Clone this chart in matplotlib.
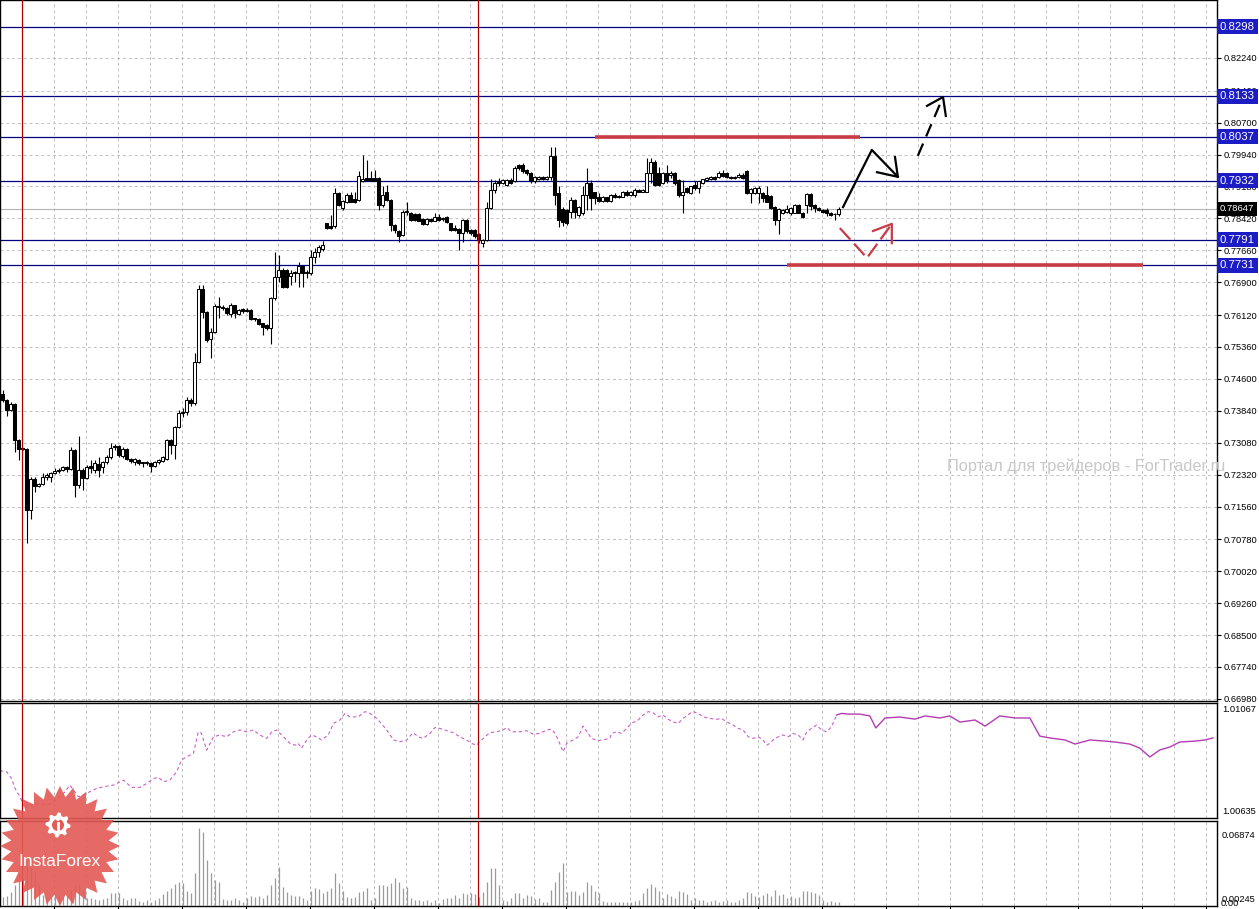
import matplotlib
matplotlib.use('Agg')
import matplotlib.pyplot as plt
import numpy as np
from matplotlib.patches import Polygon, Circle

plt.rcParams['font.family'] = ['Liberation Sans', 'DejaVu Sans']

# ---- candles (bar index 0..209), prices ----
opens = [0.7425, 0.7409, 0.7387, 0.7400, 0.7314, 0.7294, 0.7294, 0.7147, 0.7221, 0.7205,
         0.7209, 0.7227, 0.7227, 0.7236, 0.7241, 0.7242, 0.7250, 0.7245, 0.7290, 0.7207,
         0.7243, 0.7225, 0.7252, 0.7244, 0.7258, 0.7249, 0.7262, 0.7273, 0.7301, 0.7300,
         0.7276, 0.7294, 0.7270, 0.7262, 0.7266, 0.7261, 0.7259, 0.7260, 0.7252, 0.7262,
         0.7264, 0.7269, 0.7314, 0.7302, 0.7346, 0.7378, 0.7382, 0.7409, 0.7402, 0.7501,
         0.7673, 0.7620, 0.7556, 0.7572, 0.7633, 0.7630, 0.7628, 0.7614, 0.7635, 0.7614,
         0.7626, 0.7625, 0.7624, 0.7604, 0.7602, 0.7592, 0.7588, 0.7580, 0.7652, 0.7702,
         0.7720, 0.7718, 0.7705, 0.7715, 0.7711, 0.7729, 0.7711, 0.7711, 0.7751, 0.7763,
         0.7768, 0.7830, 0.7824, 0.7823, 0.7902, 0.7866, 0.7882, 0.7898, 0.7888, 0.7886,
         0.7930, 0.7938, 0.7938, 0.7938, 0.7938, 0.7874, 0.7904, 0.7886, 0.7827, 0.7813,
         0.7803, 0.7858, 0.7856, 0.7853, 0.7853, 0.7841, 0.7829, 0.7840, 0.7837, 0.7846,
         0.7840, 0.7845, 0.7830, 0.7819, 0.7816, 0.7808, 0.7838, 0.7815, 0.7815, 0.7805,
         0.7784, 0.7791, 0.7866, 0.7910, 0.7932, 0.7927, 0.7922, 0.7934, 0.7930, 0.7969,
         0.7969, 0.7958, 0.7951, 0.7930, 0.7936, 0.7940, 0.7936, 0.7940, 0.7991, 0.7902,
         0.7864, 0.7862, 0.7858, 0.7886, 0.7850, 0.7854, 0.7898, 0.7927, 0.7904, 0.7892,
         0.7884, 0.7892, 0.7884, 0.7898, 0.7894, 0.7894, 0.7906, 0.7898, 0.7898, 0.7910,
         0.7906, 0.7906, 0.7950, 0.7977, 0.7951, 0.7926, 0.7951, 0.7946, 0.7950, 0.7934,
         0.7898, 0.7914, 0.7902, 0.7922, 0.7914, 0.7927, 0.7934, 0.7935, 0.7940, 0.7940,
         0.7951, 0.7950, 0.7941, 0.7938, 0.7940, 0.7946, 0.7954, 0.7902, 0.7902, 0.7902,
         0.7902, 0.7898, 0.7896, 0.7870, 0.7839, 0.7854, 0.7858, 0.7856, 0.7856, 0.7874,
         0.7856, 0.7874, 0.7900, 0.7874, 0.7866, 0.7862, 0.7862, 0.7856, 0.7852, 0.7853]
highs = [0.7433, 0.7413, 0.7405, 0.7402, 0.7316, 0.7296, 0.7296, 0.7227, 0.7227, 0.7212,
         0.7235, 0.7235, 0.7239, 0.7247, 0.7247, 0.7253, 0.7252, 0.7298, 0.7292, 0.7324,
         0.7247, 0.7256, 0.7266, 0.7266, 0.7273, 0.7265, 0.7278, 0.7308, 0.7306, 0.7303,
         0.7297, 0.7296, 0.7272, 0.7272, 0.7269, 0.7263, 0.7264, 0.7262, 0.7265, 0.7270,
         0.7276, 0.7316, 0.7316, 0.7348, 0.7385, 0.7390, 0.7417, 0.7415, 0.7521, 0.7683,
         0.7683, 0.7622, 0.7580, 0.7638, 0.7656, 0.7635, 0.7630, 0.7640, 0.7637, 0.7627,
         0.7628, 0.7628, 0.7627, 0.7606, 0.7605, 0.7594, 0.7590, 0.7655, 0.7763, 0.7755,
         0.7725, 0.7722, 0.7718, 0.7717, 0.7739, 0.7732, 0.7718, 0.7767, 0.7771, 0.7779,
         0.7789, 0.7832, 0.7850, 0.7914, 0.7904, 0.7886, 0.7902, 0.7906, 0.7906, 0.7954,
         0.7993, 0.7980, 0.7954, 0.7958, 0.7940, 0.7918, 0.7922, 0.7888, 0.7829, 0.7815,
         0.7862, 0.7882, 0.7858, 0.7855, 0.7855, 0.7843, 0.7843, 0.7842, 0.7854, 0.7853,
         0.7845, 0.7848, 0.7832, 0.7827, 0.7818, 0.7841, 0.7840, 0.7817, 0.7817, 0.7807,
         0.7793, 0.7882, 0.7935, 0.7934, 0.7938, 0.7936, 0.7936, 0.7938, 0.7966, 0.7972,
         0.7973, 0.7960, 0.7953, 0.7942, 0.7942, 0.7942, 0.7943, 0.8013, 0.8013, 0.7918,
         0.7870, 0.7865, 0.7894, 0.7888, 0.7872, 0.7918, 0.7962, 0.7934, 0.7906, 0.7902,
         0.7895, 0.7894, 0.7900, 0.7902, 0.7898, 0.7908, 0.7910, 0.7908, 0.7914, 0.7912,
         0.7912, 0.7985, 0.7985, 0.7980, 0.7965, 0.7953, 0.7969, 0.7954, 0.7952, 0.7936,
         0.7934, 0.7916, 0.7920, 0.7930, 0.7932, 0.7937, 0.7940, 0.7943, 0.7942, 0.7954,
         0.7958, 0.7952, 0.7943, 0.7943, 0.7950, 0.7950, 0.7958, 0.7914, 0.7916, 0.7918,
         0.7904, 0.7918, 0.7898, 0.7872, 0.7866, 0.7864, 0.7874, 0.7868, 0.7876, 0.7876,
         0.7858, 0.7902, 0.7902, 0.7876, 0.7868, 0.7864, 0.7866, 0.7858, 0.7856, 0.7869]
lows = [0.7405, 0.7371, 0.7383, 0.7286, 0.7266, 0.7290, 0.7068, 0.7127, 0.7191, 0.7203,
        0.7207, 0.7219, 0.7215, 0.7234, 0.7237, 0.7240, 0.7239, 0.7243, 0.7179, 0.7199,
        0.7195, 0.7222, 0.7235, 0.7235, 0.7227, 0.7235, 0.7258, 0.7270, 0.7290, 0.7274,
        0.7272, 0.7266, 0.7260, 0.7256, 0.7256, 0.7249, 0.7254, 0.7239, 0.7249, 0.7258,
        0.7262, 0.7266, 0.7282, 0.7270, 0.7342, 0.7370, 0.7375, 0.7395, 0.7398, 0.7498,
        0.7604, 0.7548, 0.7509, 0.7568, 0.7604, 0.7624, 0.7613, 0.7608, 0.7604, 0.7612,
        0.7616, 0.7618, 0.7600, 0.7598, 0.7588, 0.7564, 0.7576, 0.7544, 0.7648, 0.7691,
        0.7676, 0.7676, 0.7683, 0.7691, 0.7679, 0.7679, 0.7699, 0.7708, 0.7735, 0.7751,
        0.7765, 0.7816, 0.7816, 0.7820, 0.7872, 0.7862, 0.7879, 0.7880, 0.7879, 0.7884,
        0.7928, 0.7930, 0.7930, 0.7930, 0.7862, 0.7870, 0.7884, 0.7811, 0.7807, 0.7787,
        0.7800, 0.7850, 0.7836, 0.7836, 0.7835, 0.7827, 0.7827, 0.7834, 0.7835, 0.7836,
        0.7836, 0.7830, 0.7811, 0.7811, 0.7767, 0.7787, 0.7807, 0.7803, 0.7795, 0.7783,
        0.7775, 0.7789, 0.7864, 0.7902, 0.7918, 0.7924, 0.7920, 0.7924, 0.7928, 0.7958,
        0.7951, 0.7946, 0.7926, 0.7927, 0.7934, 0.7934, 0.7934, 0.7934, 0.7874, 0.7821,
        0.7823, 0.7827, 0.7842, 0.7842, 0.7846, 0.7850, 0.7862, 0.7862, 0.7877, 0.7882,
        0.7882, 0.7882, 0.7882, 0.7890, 0.7891, 0.7892, 0.7896, 0.7896, 0.7894, 0.7904,
        0.7904, 0.7904, 0.7926, 0.7920, 0.7920, 0.7924, 0.7926, 0.7938, 0.7922, 0.7894,
        0.7854, 0.7902, 0.7900, 0.7910, 0.7902, 0.7925, 0.7932, 0.7933, 0.7934, 0.7938,
        0.7941, 0.7938, 0.7936, 0.7936, 0.7938, 0.7936, 0.7900, 0.7878, 0.7900, 0.7878,
        0.7882, 0.7880, 0.7864, 0.7827, 0.7805, 0.7852, 0.7856, 0.7850, 0.7854, 0.7854,
        0.7843, 0.7854, 0.7862, 0.7858, 0.7859, 0.7856, 0.7848, 0.7847, 0.7839, 0.7848]
closes = [0.7409, 0.7387, 0.7401, 0.7314, 0.7294, 0.7293, 0.7147, 0.7221, 0.7205, 0.7209,
          0.7227, 0.7231, 0.7236, 0.7241, 0.7242, 0.7250, 0.7245, 0.7290, 0.7207, 0.7243,
          0.7225, 0.7251, 0.7247, 0.7260, 0.7244, 0.7262, 0.7273, 0.7296, 0.7297, 0.7278,
          0.7294, 0.7270, 0.7264, 0.7269, 0.7260, 0.7259, 0.7262, 0.7252, 0.7262, 0.7266,
          0.7273, 0.7314, 0.7302, 0.7346, 0.7378, 0.7382, 0.7409, 0.7403, 0.7501, 0.7673,
          0.7620, 0.7552, 0.7572, 0.7633, 0.7630, 0.7628, 0.7616, 0.7636, 0.7616, 0.7624,
          0.7622, 0.7621, 0.7602, 0.7602, 0.7591, 0.7583, 0.7580, 0.7652, 0.7702, 0.7718,
          0.7679, 0.7679, 0.7713, 0.7711, 0.7729, 0.7711, 0.7715, 0.7751, 0.7763, 0.7773,
          0.7779, 0.7818, 0.7818, 0.7902, 0.7874, 0.7884, 0.7898, 0.7882, 0.7882, 0.7942,
          0.7935, 0.7934, 0.7932, 0.7932, 0.7874, 0.7898, 0.7886, 0.7827, 0.7815, 0.7799,
          0.7858, 0.7860, 0.7838, 0.7838, 0.7837, 0.7829, 0.7840, 0.7837, 0.7845, 0.7838,
          0.7842, 0.7834, 0.7815, 0.7815, 0.7807, 0.7838, 0.7811, 0.7808, 0.7799, 0.7791,
          0.7791, 0.7866, 0.7910, 0.7927, 0.7927, 0.7933, 0.7934, 0.7927, 0.7962, 0.7962,
          0.7954, 0.7950, 0.7930, 0.7940, 0.7940, 0.7936, 0.7940, 0.7991, 0.7898, 0.7838,
          0.7834, 0.7830, 0.7886, 0.7858, 0.7870, 0.7898, 0.7927, 0.7890, 0.7890, 0.7884,
          0.7892, 0.7884, 0.7898, 0.7894, 0.7896, 0.7906, 0.7898, 0.7906, 0.7910, 0.7906,
          0.7910, 0.7950, 0.7977, 0.7922, 0.7922, 0.7951, 0.7930, 0.7950, 0.7926, 0.7898,
          0.7906, 0.7906, 0.7918, 0.7914, 0.7930, 0.7935, 0.7938, 0.7940, 0.7936, 0.7950,
          0.7943, 0.7940, 0.7938, 0.7941, 0.7946, 0.7938, 0.7902, 0.7912, 0.7914, 0.7914,
          0.7890, 0.7882, 0.7866, 0.7839, 0.7864, 0.7862, 0.7864, 0.7866, 0.7874, 0.7856,
          0.7845, 0.7900, 0.7872, 0.7866, 0.7861, 0.7858, 0.7854, 0.7850, 0.7853, 0.7865]

volumes = [0.0074, 0.0082, 0.0118, 0.0176, 0.0279, 0.0235, 0.0338, 0.0323, 0.0294, 0.0176,
           0.0088, 0.0059, 0.0074, 0.0088, 0.0082, 0.0074, 0.0082, 0.0132, 0.0176, 0.0182,
           0.0123, 0.0065, 0.0059, 0.0053, 0.0044, 0.0053, 0.0059, 0.0103, 0.0109, 0.0103,
           0.0059, 0.0044, 0.0065, 0.0059, 0.0035, 0.0029, 0.0044, 0.0024, 0.0044, 0.0065,
           0.0094, 0.0123, 0.0147, 0.0182, 0.0206, 0.0191, 0.0123, 0.0103, 0.0279, 0.0682,
           0.0647, 0.0397, 0.0279, 0.0221, 0.0206, 0.0053, 0.0044, 0.0044, 0.0059, 0.0044,
           0.0029, 0.0059, 0.0082, 0.0074, 0.0082, 0.0065, 0.0088, 0.0176, 0.0235, 0.0338,
           0.0162, 0.0118, 0.0088, 0.0082, 0.0082, 0.0059, 0.0044, 0.0123, 0.0147, 0.0141,
           0.0103, 0.0123, 0.0153, 0.0279, 0.0191, 0.0123, 0.0074, 0.0059, 0.0074, 0.0118,
           0.0123, 0.0147, 0.0044, 0.0065, 0.0176, 0.0176, 0.0171, 0.0191, 0.0235, 0.0206,
           0.0147, 0.0162, 0.0059, 0.0044, 0.0044, 0.0035, 0.0044, 0.0029, 0.0044, 0.0015,
           0.0053, 0.0065, 0.0059, 0.0088, 0.0059, 0.0103, 0.0094, 0.0103, 0.0094, 0.0074,
           0.0118, 0.0206, 0.0323, 0.0323, 0.0176, 0.0044, 0.0035, 0.0065, 0.0103, 0.0103,
           0.0065, 0.0088, 0.0082, 0.0053, 0.0065, 0.0029, 0.0029, 0.0132, 0.0206, 0.0294,
           0.0368, 0.0118, 0.0123, 0.0123, 0.0088, 0.0118, 0.0200, 0.0176, 0.0123, 0.0103,
           0.0035, 0.0024, 0.0029, 0.0024, 0.0029, 0.0024, 0.0029, 0.0029, 0.0035, 0.0044,
           0.0103, 0.0147, 0.0182, 0.0162, 0.0123, 0.0059, 0.0094, 0.0082, 0.0059, 0.0123,
           0.0118, 0.0094, 0.0044, 0.0065, 0.0044, 0.0044, 0.0029, 0.0035, 0.0044, 0.0029,
           0.0035, 0.0044, 0.0029, 0.0024, 0.0044, 0.0059, 0.0118, 0.0103, 0.0082, 0.0074,
           0.0088, 0.0103, 0.0082, 0.0132, 0.0088, 0.0094, 0.0059, 0.0082, 0.0065, 0.0074,
           0.0123, 0.0123, 0.0118, 0.0103, 0.0088, 0.0044, 0.0029, 0.0035, 0.0029, 0.0024]

# second window: comparison line (dashed part, then solid part), x in bar units
ind_dash_x = [-0.7, 1.0, 2.2, 3.1, 4.3, 5.6, 6.0, 7.7, 9.3, 11.0, 12.7, 14.3, 15.6, 16.8, 17.7,
              18.9, 20.2, 21.8, 23.5, 25.2, 27.7, 30.2, 32.2, 34.3, 36.0, 37.7, 38.9, 40.2, 41.8,
              43.5, 44.7, 46.0, 47.7, 48.9, 49.7, 51.0, 52.7, 54.3, 56.0, 57.7, 59.3, 61.0, 62.7,
              64.3, 66.0, 67.3, 68.5, 70.2, 71.8, 73.1, 73.9, 74.7, 76.0, 77.2, 78.5, 79.7, 81.4,
              82.7, 84.3, 85.6, 86.8, 88.9, 90.6, 91.8, 93.1, 94.3, 96.0, 97.7, 99.3,
              101.0, 102.6, 103.9, 105.1, 106.8, 108.1, 109.3, 111.0, 112.6, 114.3, 116.0, 117.2,
              118.5, 119.3, 120.6, 121.8, 123.5, 125.1, 126.0, 127.2, 129.3, 131.0, 132.6, 134.3,
              136.0, 137.2, 138.1, 138.9, 140.1, 141.0, 142.6, 143.9, 145.1, 146.4, 147.2, 148.9,
              150.5, 151.8, 152.2, 153.5, 154.7, 156.0, 157.2, 158.9, 160.1, 161.4, 162.6, 163.9,
              165.1, 166.4, 167.6, 168.9, 170.1, 171.8, 172.6, 173.9, 175.1, 176.8, 178.5, 179.7,
              181.0, 182.6, 183.9, 185.1, 186.4, 187.6, 188.9, 190.1, 191.0, 191.8, 192.6, 193.9,
              195.1, 196.4, 197.6, 198.9, 200.1, 201.0, 202.2, 203.5, 204.7, 206.0, 207.2, 208.5]
ind_dash_v = [1.00799, 1.00795, 1.00765, 1.00721, 1.00685, 1.00633, 1.00648, 1.00648, 1.00655,
              1.00648, 1.00663, 1.00685, 1.00707, 1.00736, 1.00714, 1.00685, 1.00692, 1.00707,
              1.00721, 1.00729, 1.00736, 1.00758, 1.00726, 1.00726, 1.00743, 1.00765, 1.00770,
              1.00751, 1.00758, 1.00795, 1.00846, 1.00861, 1.00876, 1.00971, 1.00964, 1.00890,
              1.00949, 1.00957, 1.00949, 1.00971, 1.00979, 1.00971, 1.00979, 1.00957, 1.00942,
              1.00971, 1.00979, 1.00949, 1.00920, 1.00912, 1.00920, 1.00898, 1.00935, 1.00957,
              1.00949, 1.00935, 1.00957, 1.01008, 1.01023, 1.01052, 1.01037, 1.01037, 1.01060,
              1.01052, 1.01037, 1.01015, 1.00979, 1.00935, 1.00927,
              1.00935, 1.00967, 1.00949, 1.00942, 1.00964, 1.00990, 1.00986, 1.00976, 1.00967,
              1.00949, 1.00935, 1.00920, 1.00912, 1.00927, 1.00949, 1.00967, 1.00971, 1.00979,
              1.00990, 1.00971, 1.00971, 1.00976, 1.00961, 1.00964, 1.00979, 1.00982, 1.00964,
              1.00935, 1.00883, 1.00920, 1.00935, 1.00949, 1.00996, 1.00964, 1.00942, 1.00932,
              1.00937, 1.00942, 1.00964, 1.00971, 1.00964, 1.00986, 1.01008, 1.01023, 1.01045,
              1.01060, 1.01055, 1.01037, 1.01045, 1.01026, 1.01015, 1.01008, 1.01030, 1.01052,
              1.01060, 1.01052, 1.01037, 1.01030, 1.01026, 1.01030, 1.01015, 1.01001, 1.00986,
              1.00979, 1.00949, 1.00942, 1.00949, 1.00935, 1.00912, 1.00920, 1.00935, 1.00949,
              1.00957, 1.00949, 1.00964, 1.00957, 1.00935, 1.00971, 1.00986, 1.01001, 1.00979,
              1.00971, 1.00993, 1.01045]
ind_solid_x = [208.5, 209.7, 211.8, 214.3, 216.8, 218.3, 220.6, 224.3, 228.1, 230.6, 234.3, 236.8,
               239.3, 243.1, 245.6, 249.3, 253.1, 256.8, 259.3, 261.8, 265.6, 268.1, 271.8, 275.6,
               278.1, 281.8, 284.3, 286.8, 289.3, 291.8, 294.3, 298.1, 300.6, 302.6]
ind_solid_v = [1.01045, 1.01052, 1.01049, 1.01049, 1.01041, 1.00988, 1.01032, 1.01036, 1.01027,
               1.01041, 1.01032, 1.01041, 1.01014, 1.01023, 1.00996, 1.01041, 1.01032, 1.01032,
               1.00952, 1.00944, 1.00935, 1.00917, 1.00935, 1.00930, 1.00926, 1.00917, 1.00899,
               1.00860, 1.00891, 1.00904, 1.00926, 1.00930, 1.00935, 1.00944]

price_ticks = [0.82240, 0.81460, 0.80700, 0.79940, 0.79180, 0.78420, 0.77660, 0.76900, 0.76120,
               0.75360, 0.74600, 0.73840, 0.73080, 0.72320, 0.71560, 0.70780, 0.70020, 0.69260,
               0.68500, 0.67740, 0.66980]
levels = [0.8298, 0.8133, 0.8037, 0.7932, 0.7791, 0.7731]
last_price = 0.78647
marker_bars = [4.8, 118.8]

# hand-drawn forecast marks (bar index, price)
red_zone_top = (148.1, 214.3, 0.8036)
red_zone_bottom = (196.1, 285.1, 0.7731)
black_path_x, black_path_y = [210.1, 217.3, 223.8], [0.7869, 0.8005, 0.7941]
black_head_x, black_head_y = [223.1, 223.8, 218.6], [0.7988, 0.7941, 0.7952]
black_dash_x, black_dash_y = [228.8, 235.1], [0.7991, 0.8131]
black_dhead_x, black_dhead_y = [231.1, 235.1, 235.8], [0.8110, 0.8131, 0.8086]
red_path_x, red_path_y = [209.3, 216.1, 222.3], [0.7819, 0.7748, 0.7829]
red_head_x, red_head_y = [217.6, 222.3, 222.3], [0.7812, 0.7829, 0.7783]

W, H = 1259, 909
fig = plt.figure(figsize=(W / 100, H / 100), dpi=100)


def px_axes(x0, y0, x1, y1):
    return fig.add_axes([x0 / W, 1 - y1 / H, (x1 - x0) / W, (y1 - y0) / H])


ax = px_axes(0, 0, 1217, 701)
ax_ind = px_axes(0, 703, 1217, 818)
ax_vol = px_axes(0, 821, 1217, 906)

xlim = (-0.675, 303.6)
grid_x = np.arange(4.825, 304, 8)
grid_style = dict(color='#c0c0c0', lw=0.7, ls=(0, (3, 3)))

for a in (ax, ax_ind, ax_vol):
    a.set_xlim(*xlim)
    for s in a.spines.values():
        s.set_linewidth(1.0)
        s.set_color('black')
    a.set_xticks(grid_x)
    a.tick_params(axis='x', length=0, labelbottom=False)
    a.grid(axis='x', **grid_style)
    a.set_axisbelow(True)
    for b in marker_bars:
        a.axvline(b, color='#b00000', lw=0.9, zorder=6)

# ---- main price window ----
o, h, l, c = map(np.array, (opens, highs, lows, closes))
idx = np.arange(len(o))
up = c >= o
body_low = np.minimum(o, c)
body_h = np.maximum(np.abs(c - o), 0.00012)
ax.vlines(idx, l, h, color='black', lw=0.8, zorder=3)
ax.bar(idx[up], body_h[up], bottom=body_low[up], width=0.6, facecolor='white',
       edgecolor='black', lw=0.75, zorder=4)
ax.bar(idx[~up], body_h[~up], bottom=body_low[~up], width=0.6, facecolor='black',
       edgecolor='black', lw=0.75, zorder=4)

ax.set_ylim(0.66930, 0.83620)
ax.set_yticks(price_ticks)
ax.set_yticklabels(['%.5f' % t for t in price_ticks])
ax.yaxis.tick_right()
ax.tick_params(axis='y', direction='out', length=3, labelsize=6.7, pad=2)
ax.grid(axis='y', **grid_style)

ytr = ax.get_yaxis_transform()
for p in levels:
    ax.axhline(p, color='#000080', lw=0.9, zorder=2)
    ax.text(1 + 3 / 1217, p, '%.4f' % p, transform=ytr, ha='left', va='center', color='white',
            fontsize=8.2, clip_on=False, zorder=10,
            bbox=dict(boxstyle='square,pad=0.22', fc='#1c1cc4', ec='none'))
ax.axhline(last_price, color='#b4b4b4', lw=0.8, zorder=2)
ax.text(1 + 3 / 1217, last_price, '%.5f' % last_price, transform=ytr, ha='left', va='center',
        color='white', fontsize=6.8, clip_on=False, zorder=10,
        bbox=dict(boxstyle='square,pad=0.3', fc='black', ec='none'))

red = '#c83c46'
ax.hlines(red_zone_top[2], red_zone_top[0], red_zone_top[1], color=red, lw=2.6, zorder=5)
ax.hlines(red_zone_bottom[2], red_zone_bottom[0], red_zone_bottom[1], color=red, lw=2.6, zorder=5)
ax.plot(black_path_x, black_path_y, color='black', lw=1.6, zorder=7)
ax.plot(black_head_x, black_head_y, color='black', lw=1.6, zorder=7)
ax.plot(black_dash_x, black_dash_y, color='black', lw=1.6, ls=(0, (6, 3.5)), zorder=7)
ax.plot(black_dhead_x, black_dhead_y, color='black', lw=1.6, zorder=7)
ax.plot(red_path_x, red_path_y, color=red, lw=1.6, ls=(0, (7, 2.5)), zorder=7)
ax.plot(red_head_x, red_head_y, color=red, lw=1.6, zorder=7)

# ---- indicator window ----
ax_ind.set_ylim(1.00591, 1.01098)
ax_ind.set_yticks([])
ax_ind.plot(ind_dash_x, ind_dash_v, color='#c860c8', lw=0.8, ls=(0, (3, 2.5)))
ax_ind.plot(ind_solid_x, ind_solid_v, color='#b43cb4', lw=1.0)

# ---- volume window ----
ax_vol.set_ylim(-0.0009, 0.0740)
ax_vol.set_yticks([])
ax_vol.vlines(idx, 0, volumes, color='#9a9a9a', lw=0.9)
ax_vol.set_xticks(np.arange(12.8, 304, 16), minor=False)
ax_vol.set_xticks(grid_x, minor=True)
ax_vol.tick_params(axis='x', which='major', length=4, direction='out', labelbottom=False)
ax_vol.tick_params(axis='x', which='minor', length=0)
ax_vol.grid(axis='x', which='both', **grid_style)

for txt, yy in [('1.01067', 710), ('1.00635', 812), ('0.06874', 835), ('0.00245', 900)]:
    fig.text(1222 / W, 1 - yy / H, txt, fontsize=6.7, va='center', ha='left')
fig.text(1221 / W, 1 - 903 / H, '0.00', fontsize=6.7, va='center', ha='left')

fig.text(947 / W, 1 - 466 / H, 'Портал для трейдеров - ForTrader.ru', color='#c8c8c8',
         fontsize=11.8, va='center', ha='left')

# ---- InstaForex badge ----
ov = fig.add_axes([0, 0, 1, 1])
ov.set_xlim(0, W)
ov.set_ylim(H, 0)
ov.axis('off')
ov.patch.set_alpha(0)
ov.set_zorder(20)
n = 28
ang = np.linspace(0, 2 * np.pi, 2 * n, endpoint=False)
rad = np.where(np.arange(2 * n) % 2 == 0, 60, 49)
ov.add_patch(Polygon(np.c_[60 + rad * np.cos(ang), 846 + rad * np.sin(ang)],
                     closed=True, fc='#e35a55', ec='none', alpha=0.9))
g = 8
ang2 = np.linspace(0, 2 * np.pi, 4 * g, endpoint=False)
rad2 = np.where((np.arange(4 * g) // 2) % 2 == 0, 12.5, 9.5)
ov.add_patch(Polygon(np.c_[58 + rad2 * np.cos(ang2), 825 + rad2 * np.sin(ang2)],
                     closed=True, fc='white', ec='none'))
ov.add_patch(Circle((58, 825), 6, fc='#e35a55', ec='none'))
ov.plot([58, 58], [823, 832], color='white', lw=2)
ov.add_patch(Circle((58, 819), 2, fc='white', ec='none'))
ov.text(60, 862, 'InstaForex', color='white', fontsize=12.5, ha='center', va='center')

fig.savefig('out.png', dpi=100)
